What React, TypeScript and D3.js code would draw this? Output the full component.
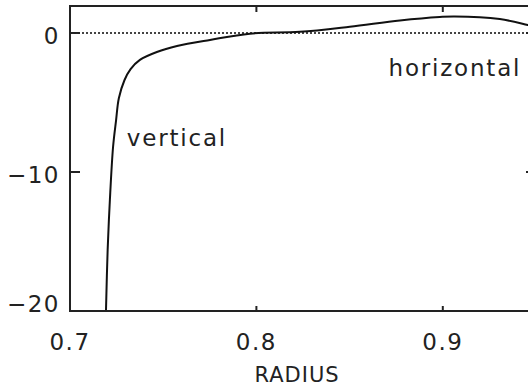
import React from "react";
import * as d3 from "d3";

const radius = [0.7193, 0.7202, 0.7214, 0.7231, 0.7247, 0.7262, 0.7292, 0.7325, 0.7375, 0.7466, 0.7574, 0.7751, 0.7965, 0.8233, 0.8501, 0.877, 0.8984, 0.9064, 0.9306, 0.9456, 0.95];
const values = [-20, -15.6, -12.0, -8.2, -6.3, -4.7, -3.4, -2.6, -1.94, -1.37, -0.94, -0.5, -0.05, 0.08, 0.45, 0.9, 1.15, 1.19, 1.0, 0.58, 0.45];
const xTicks = [0.7, 0.8, 0.9];
const yTicks = [0, -10, -20];
const xTitle = "RADIUS";
const labels = [
  { text: "vertical", x: 0.7305, y: -8.1 },
  { text: "horizontal", x: 0.8709, y: -3.1 },
];

const W = 528, H = 388;
const M = { left: 70, top: 6, right: 536, bottom: 311 };
const FONT = "DejaVu Sans";
const INK = "#222";

export default function App() {
  const x = d3.scaleLinear().domain([0.7, 0.95]).range([M.left, M.right]);
  const y = d3.scaleLinear().domain([-20, 1.94]).range([M.bottom, M.top]);
  const pts = radius.map((r, i) => [r, values[i]] as [number, number]);
  const line = d3
    .line<[number, number]>()
    .x((d) => x(d[0]))
    .y((d) => y(d[1]))
    .curve(d3.curveCatmullRom.alpha(0.5));
  const fmtY = (v: number) => (v < 0 ? "\u2212" + Math.abs(v) : String(v));
  return (
    <svg width={W} height={H} style={{ position: "absolute", left: 0, top: 0, background: "#fff" }}>
      <defs>
        <clipPath id="plot">
          <rect x={M.left} y={M.top} width={M.right - M.left} height={M.bottom - M.top} />
        </clipPath>
      </defs>
      <line x1={M.left} x2={M.right} y1={y(0)} y2={y(0)} stroke="#444" strokeWidth={2} strokeDasharray="2 2" />
      <path d={line(pts) || ""} fill="none" stroke="#111" strokeWidth={2} clipPath="url(#plot)" />
      <rect x={M.left} y={M.top} width={M.right - M.left} height={M.bottom - M.top} fill="none" stroke={INK} strokeWidth={2} />
      {yTicks.map((t) => (
        <g key={"y" + t}>
          <line x1={M.left} x2={M.left + 10} y1={y(t)} y2={y(t)} stroke={INK} strokeWidth={2} />
          <line x1={M.right} x2={M.right - 10} y1={y(t)} y2={y(t)} stroke={INK} strokeWidth={2} />
          <text
            x={60}
            y={Math.min(y(t) + 3.5, M.bottom - 7)}
            textAnchor="end"
            dominantBaseline="central"
            fontFamily={FONT}
            fontSize={23}
            letterSpacing={1.5}
            fill={INK}
          >
            {fmtY(t)}
          </text>
        </g>
      ))}
      {xTicks.map((t) => (
        <g key={"x" + t}>
          <line x1={x(t)} x2={x(t)} y1={M.bottom} y2={M.bottom - 5} stroke={INK} strokeWidth={2} />
          <line x1={x(t)} x2={x(t)} y1={M.top} y2={M.top + 6} stroke={INK} strokeWidth={2} />
          <text x={x(t)} y={350} textAnchor="middle" fontFamily={FONT} fontSize={23} letterSpacing={1.5} fill={INK}>
            {t.toFixed(1)}
          </text>
        </g>
      ))}
      <text x={297} y={382} textAnchor="middle" fontFamily={FONT} fontSize={21} letterSpacing={1} fill={INK}>
        {xTitle}
      </text>
      {labels.map((l) => (
        <text key={l.text} x={x(l.x)} y={y(l.y)} fontFamily={FONT} fontSize={23} letterSpacing={1.8} fill={INK}>
          {l.text}
        </text>
      ))}
    </svg>
  );
}
